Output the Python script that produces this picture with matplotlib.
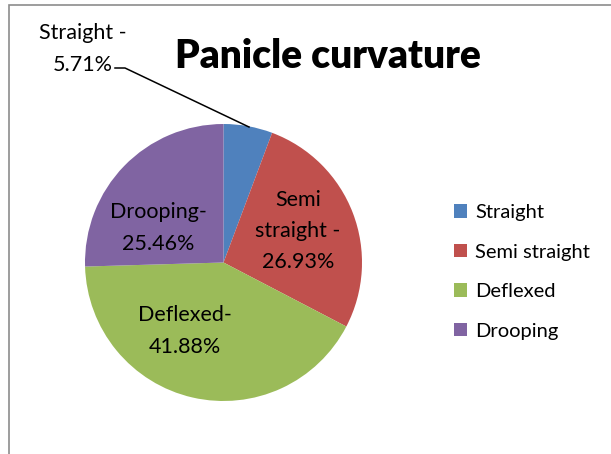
import matplotlib.pyplot as plt
from matplotlib.patches import Rectangle
from matplotlib.lines import Line2D

categories = ['Straight', 'Semi straight', 'Deflexed', 'Drooping']
shares = [5.71, 26.93, 41.88, 25.46]
slice_labels = ['Straight -\n5.71%', 'Semi\nstraight -\n26.93%',
                'Deflexed-\n41.88%', 'Drooping-\n25.46%']
COLORS = ['#4F81BD', '#C0504D', '#9BBB59', '#8064A2']

plt.rcParams['font.family'] = ['Lato', 'DejaVu Sans']

W, H = 611, 454
fig = plt.figure(figsize=(W / 100, H / 100), dpi=100)


def px(x, y):
    """Pixel position (from top left) to figure fraction."""
    return x / W, 1 - y / H


# chart area border (only left and top edges are in view)
fig.patches.append(Rectangle(px(8.5, 470), 700 / W, 465 / H,
                             transform=fig.transFigure, fill=False,
                             edgecolor='#8c8c8c', linewidth=1.2))

cx, cy, r = 223.5, 262.5, 138.5
ax = fig.add_axes([(cx - r) / W, 1 - (cy + r) / H, 2 * r / W, 2 * r / H])
wedges, _ = ax.pie(shares, colors=COLORS, startangle=90, counterclock=False,
                   radius=1, wedgeprops=dict(linewidth=0))
ax.set_xlim(-1, 1)
ax.set_ylim(-1, 1)
ax.set_aspect('equal')
ax.axis('off')

fig.text(*px(328, 57), 'Panicle curvature', ha='center', va='center',
         fontsize=28, fontweight='heavy')

# data labels
label_pos = [(83, 49), (298, 231), (185, 331), (158, 228)]
for text, (x, y) in zip(slice_labels, label_pos):
    fig.text(*px(x, y), text, ha='center', va='center', fontsize=15.5,
             linespacing=1.7)

# leader line for the small slice
xs, ys = zip(*[px(115, 68), px(125, 68), px(249, 127)])
fig.add_artist(Line2D(xs, ys, color='black', linewidth=1.1,
                      transform=fig.transFigure))

leg = fig.legend(wedges, categories, loc='upper left',
                 bbox_to_anchor=px(436, 186), frameon=False, fontsize=14.5,
                 handlelength=0.65, handleheight=0.65, handletextpad=0.4,
                 labelspacing=1.12)

fig.savefig('out.png', dpi=100, facecolor='white')
